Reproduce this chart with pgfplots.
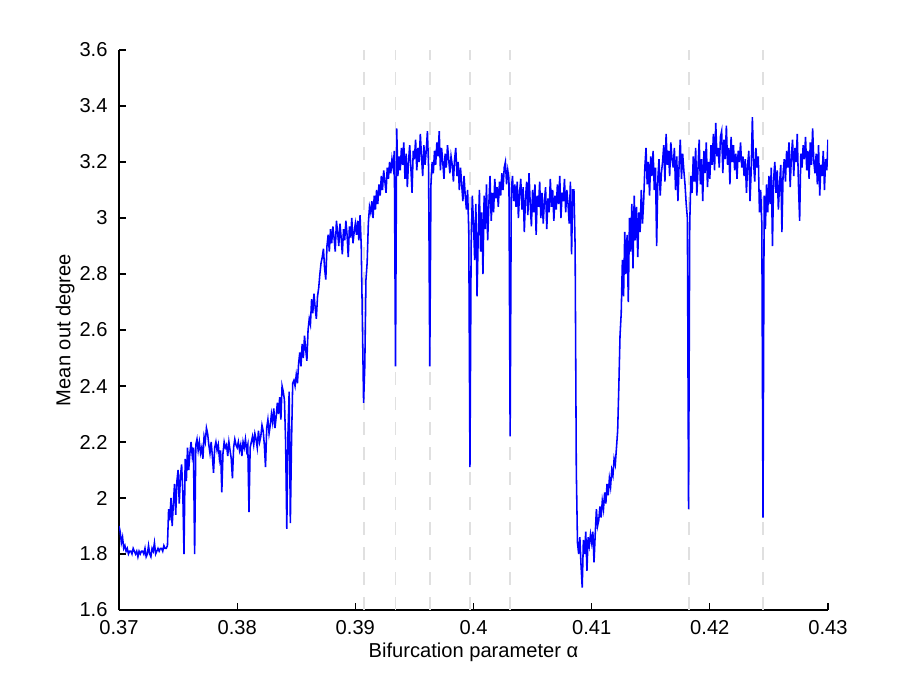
\documentclass[border=0pt]{standalone}
\usepackage{fontspec}
\setmainfont{Liberation Sans}
\usepackage{pgfplots}
\pgfplotsset{compat=1.18}

\begin{document}
\begin{tikzpicture}
\useasboundingbox (-57.12bp,-35.52bp) rectangle (381.12bp,292.8bp);
\begin{axis}[
  at={(0,0)}, anchor=south west,
  scale only axis,
  width=340.32bp, height=268.8bp,
  xmin=0.37, xmax=0.43, ymin=1.6, ymax=3.6,
  axis x line*=bottom, axis y line*=left,
  axis line style={line width=0.5bp},
  tick align=inside,
  major tick length=3.4bp,
  tick style={line width=0.5bp, black},
  xtick={0.37,0.38,...,0.43},
  ytick={1.6,1.8,...,3.6},
  font=\fontsize{9.7}{11}\selectfont,
  /pgf/number format/assume math mode=true,
  xticklabel style={/pgf/number format/fixed, /pgf/number format/precision=2, yshift=-1.5bp},
  yticklabel style={/pgf/number format/fixed, /pgf/number format/precision=1, xshift=-2bp},
  scaled x ticks=false,
  xlabel={Bifurcation parameter α},
  ylabel={Mean out degree},
  every axis x label/.style={at={(axis description cs:0.5,-0.075)}, anchor=center},
  every axis y label/.style={at={(axis description cs:-0.0761,0.5)}, rotate=90, anchor=center},
]
% marked parameter values
\addplot[ycomb, draw=black!12, line width=0.9bp, dash pattern=on 6.3bp off 5.7bp, mark=none]
  coordinates {(0.3907,3.6) (0.3934,3.6) (0.3963,3.6) (0.3997,3.6) (0.4031,3.6) (0.4182,3.6) (0.4245,3.6)};
\addplot[blue, line width=0.75bp, mark=none] table {
x y
0.3700 1.90
0.3701 1.88
0.3702 1.84
0.3703 1.86
0.3704 1.82
0.3705 1.83
0.3706 1.81
0.3707 1.82
0.3708 1.80
0.3709 1.81
0.3710 1.81
0.3711 1.80
0.3712 1.82
0.3713 1.81
0.3714 1.80
0.3715 1.81
0.3716 1.79
0.3717 1.81
0.3718 1.80
0.3719 1.81
0.3720 1.81
0.3721 1.80
0.3722 1.82
0.3723 1.79
0.3724 1.80
0.3725 1.83
0.3726 1.80
0.3727 1.79
0.3728 1.82
0.3729 1.81
0.3730 1.84
0.3731 1.80
0.3732 1.81
0.3733 1.82
0.3734 1.81
0.3735 1.82
0.3736 1.82
0.3737 1.81
0.3738 1.83
0.3739 1.82
0.3740 1.82
0.3741 1.83
0.3742 1.96
0.3743 1.92
0.3744 2.00
0.3745 1.90
0.3746 1.98
0.3747 2.05
0.3748 1.94
0.3749 2.06
0.3750 2.10
0.3751 1.98
0.3752 2.08
0.3753 2.12
0.3754 2.02
0.3755 1.80
0.3756 2.14
0.3757 2.06
0.3758 2.18
0.3759 2.10
0.3760 2.16
0.3761 2.20
0.3762 2.15
0.3763 2.18
0.3764 1.80
0.3765 2.19
0.3766 2.21
0.3767 2.17
0.3768 2.20
0.3769 2.16
0.3770 2.18
0.3771 2.14
0.3772 2.22
0.3773 2.20
0.3774 2.25
0.3775 2.23
0.3776 2.19
0.3777 2.16
0.3778 2.20
0.3779 2.15
0.3780 2.09
0.3781 2.18
0.3782 2.20
0.3783 2.17
0.3784 2.19
0.3785 2.14
0.3786 2.17
0.3787 2.02
0.3788 2.16
0.3789 2.20
0.3790 2.18
0.3791 2.19
0.3792 2.15
0.3793 2.20
0.3794 2.17
0.3795 2.14
0.3796 2.07
0.3797 2.18
0.3798 2.21
0.3799 2.19
0.3800 2.18
0.3801 2.20
0.3802 2.17
0.3803 2.19
0.3804 2.15
0.3805 2.20
0.3806 2.18
0.3807 2.21
0.3808 2.17
0.3809 2.19
0.3810 1.95
0.3811 2.18
0.3812 2.20
0.3813 2.22
0.3814 2.19
0.3815 2.23
0.3816 2.21
0.3817 2.18
0.3818 2.24
0.3819 2.20
0.3820 2.22
0.3821 2.26
0.3822 2.24
0.3823 2.19
0.3824 2.11
0.3825 2.25
0.3826 2.28
0.3827 2.23
0.3828 2.26
0.3829 2.30
0.3830 2.27
0.3831 2.32
0.3832 2.25
0.3833 2.29
0.3834 2.34
0.3835 2.30
0.3836 2.36
0.3837 2.28
0.3838 2.40
0.3839 2.38
0.3840 2.35
0.3841 2.20
0.3842 1.89
0.3843 2.23
0.3844 2.38
0.3845 1.91
0.3846 2.20
0.3847 2.41
0.3848 2.42
0.3849 2.40
0.3850 2.44
0.3851 2.41
0.3852 2.48
0.3853 2.52
0.3854 2.47
0.3855 2.55
0.3856 2.50
0.3857 2.58
0.3858 2.53
0.3859 2.49
0.3860 2.60
0.3861 2.64
0.3862 2.62
0.3863 2.71
0.3864 2.66
0.3865 2.73
0.3866 2.68
0.3867 2.64
0.3868 2.72
0.3869 2.75
0.3870 2.80
0.3871 2.84
0.3872 2.86
0.3873 2.89
0.3874 2.82
0.3875 2.78
0.3876 2.90
0.3877 2.94
0.3878 2.88
0.3879 2.96
0.3880 2.91
0.3881 2.97
0.3882 2.93
0.3883 2.88
0.3884 2.99
0.3885 2.95
0.3886 2.90
0.3887 2.98
0.3888 2.93
0.3889 2.87
0.3890 2.96
0.3891 2.92
0.3892 2.99
0.3893 2.94
0.3894 2.86
0.3895 2.97
0.3896 2.93
0.3897 3.00
0.3898 2.91
0.3899 2.95
0.3900 2.98
0.3901 2.94
0.3902 2.99
0.3903 2.92
0.3904 3.01
0.3905 2.90
0.3906 2.62
0.3907 2.34
0.3908 2.47
0.3909 2.78
0.3910 2.84
0.3911 2.98
0.3912 3.04
0.3913 3.02
0.3914 3.06
0.3915 3.00
0.3916 3.08
0.3917 3.03
0.3918 3.10
0.3919 3.05
0.3920 3.12
0.3921 3.08
0.3922 3.15
0.3923 3.10
0.3924 3.17
0.3925 3.13
0.3926 3.09
0.3927 3.18
0.3928 3.14
0.3929 3.20
0.3930 3.16
0.3931 3.21
0.3932 3.18
0.3933 3.24
0.3934 2.47
0.3935 3.32
0.3936 3.15
0.3937 3.22
0.3938 3.17
0.3939 3.25
0.3940 3.19
0.3941 3.27
0.3942 3.14
0.3943 3.23
0.3944 3.11
0.3945 3.20
0.3946 3.26
0.3947 3.18
0.3948 3.09
0.3949 3.24
0.3950 3.21
0.3951 3.28
0.3952 3.17
0.3953 3.25
0.3954 3.20
0.3955 3.30
0.3956 3.22
0.3957 3.15
0.3958 3.26
0.3959 3.19
0.3960 3.24
0.3961 3.31
0.3962 3.18
0.3963 2.47
0.3964 3.12
0.3965 3.20
0.3966 3.16
0.3967 3.24
0.3968 3.19
0.3969 3.27
0.3970 3.22
0.3971 3.31
0.3972 3.17
0.3973 3.25
0.3974 3.20
0.3975 3.14
0.3976 3.23
0.3977 3.18
0.3978 3.26
0.3979 3.21
0.3980 3.16
0.3981 3.22
0.3982 3.19
0.3983 3.13
0.3984 3.21
0.3985 3.25
0.3986 3.15
0.3987 3.20
0.3988 3.10
0.3989 3.18
0.3990 3.12
0.3991 3.06
0.3992 3.15
0.3993 3.08
0.3994 3.03
0.3995 3.10
0.3996 2.95
0.3997 2.11
0.3998 2.90
0.3999 3.08
0.4000 2.98
0.4001 2.85
0.4002 3.05
0.4003 2.72
0.4004 2.94
0.4005 3.10
0.4006 2.88
0.4007 3.02
0.4008 2.80
0.4009 3.08
0.4010 2.96
0.4011 3.12
0.4012 2.92
0.4013 3.05
0.4014 3.15
0.4015 2.99
0.4016 3.09
0.4017 3.02
0.4018 3.14
0.4019 3.07
0.4020 3.11
0.4021 3.04
0.4022 3.13
0.4023 3.08
0.4024 3.16
0.4025 3.10
0.4026 3.18
0.4027 3.20
0.4028 3.12
0.4029 3.17
0.4030 3.14
0.4031 2.22
0.4032 3.10
0.4033 3.15
0.4034 3.06
0.4035 3.12
0.4036 3.04
0.4037 3.13
0.4038 3.00
0.4039 3.09
0.4040 3.14
0.4041 3.03
0.4042 3.11
0.4043 2.95
0.4044 3.07
0.4045 3.13
0.4046 3.01
0.4047 3.16
0.4048 3.05
0.4049 2.97
0.4050 3.10
0.4051 3.02
0.4052 3.12
0.4053 2.94
0.4054 3.08
0.4055 3.04
0.4056 3.13
0.4057 3.00
0.4058 3.09
0.4059 2.98
0.4060 3.06
0.4061 3.11
0.4062 2.96
0.4063 3.07
0.4064 3.02
0.4065 3.14
0.4066 3.04
0.4067 3.10
0.4068 2.99
0.4069 3.08
0.4070 3.03
0.4071 3.12
0.4072 3.05
0.4073 3.15
0.4074 3.00
0.4075 3.09
0.4076 3.06
0.4077 3.14
0.4078 3.02
0.4079 3.10
0.4080 3.05
0.4081 2.98
0.4082 3.13
0.4083 2.87
0.4084 3.10
0.4085 3.10
0.4086 2.90
0.4087 2.10
0.4088 1.84
0.4089 1.80
0.4090 1.86
0.4091 1.76
0.4092 1.68
0.4093 1.85
0.4094 1.80
0.4095 1.88
0.4096 1.74
0.4097 1.86
0.4098 1.83
0.4099 1.87
0.4100 1.84
0.4101 1.88
0.4102 1.77
0.4103 1.87
0.4104 1.96
0.4105 1.90
0.4106 1.92
0.4107 1.97
0.4108 1.93
0.4109 1.99
0.4110 1.96
0.4111 2.02
0.4112 1.98
0.4113 2.05
0.4114 2.01
0.4115 2.07
0.4116 2.04
0.4117 2.10
0.4118 2.08
0.4119 2.14
0.4120 2.12
0.4121 2.18
0.4122 2.24
0.4123 2.40
0.4124 2.58
0.4125 2.66
0.4126 2.85
0.4127 2.72
0.4128 2.95
0.4129 2.80
0.4130 2.94
0.4131 2.70
0.4132 3.00
0.4133 2.88
0.4134 3.05
0.4135 2.82
0.4136 3.08
0.4137 2.92
0.4138 3.04
0.4139 2.86
0.4140 3.02
0.4141 2.95
0.4142 3.10
0.4143 2.98
0.4144 3.06
0.4145 3.18
0.4146 3.25
0.4147 3.12
0.4148 3.20
0.4149 3.08
0.4150 3.22
0.4151 3.15
0.4152 3.24
0.4153 3.10
0.4154 3.18
0.4155 2.90
0.4156 3.14
0.4157 3.21
0.4158 3.08
0.4159 3.16
0.4160 3.20
0.4161 3.26
0.4162 3.13
0.4163 3.30
0.4164 3.19
0.4165 3.24
0.4166 3.15
0.4167 3.27
0.4168 3.21
0.4169 3.18
0.4170 3.25
0.4171 3.10
0.4172 3.22
0.4173 3.06
0.4174 3.19
0.4175 3.28
0.4176 3.14
0.4177 3.23
0.4178 3.17
0.4179 3.12
0.4180 3.05
0.4181 3.00
0.4182 1.96
0.4183 2.98
0.4184 3.15
0.4185 3.09
0.4186 3.22
0.4187 3.13
0.4188 3.25
0.4189 3.08
0.4190 3.18
0.4191 3.28
0.4192 3.12
0.4193 3.21
0.4194 3.06
0.4195 3.24
0.4196 3.16
0.4197 3.27
0.4198 3.11
0.4199 3.20
0.4200 3.14
0.4201 3.26
0.4202 3.19
0.4203 3.30
0.4204 3.17
0.4205 3.34
0.4206 3.22
0.4207 3.25
0.4208 3.18
0.4209 3.29
0.4210 3.31
0.4211 3.16
0.4212 3.28
0.4213 3.21
0.4214 3.33
0.4215 3.19
0.4216 3.25
0.4217 3.12
0.4218 3.29
0.4219 3.20
0.4220 3.26
0.4221 3.17
0.4222 3.23
0.4223 3.14
0.4224 3.24
0.4225 3.20
0.4226 3.27
0.4227 3.18
0.4228 3.22
0.4229 3.15
0.4230 3.21
0.4231 3.09
0.4232 3.19
0.4233 3.24
0.4234 3.06
0.4235 3.17
0.4236 3.36
0.4237 3.20
0.4238 3.13
0.4239 3.25
0.4240 3.18
0.4241 3.22
0.4242 3.02
0.4243 3.10
0.4244 2.98
0.4245 1.93
0.4246 3.08
0.4247 2.96
0.4248 3.12
0.4249 3.02
0.4250 3.15
0.4251 3.05
0.4252 3.18
0.4253 2.90
0.4254 3.14
0.4255 3.20
0.4256 3.09
0.4257 3.17
0.4258 3.03
0.4259 3.12
0.4260 3.19
0.4261 2.95
0.4262 3.16
0.4263 3.21
0.4264 3.13
0.4265 3.24
0.4266 3.18
0.4267 3.27
0.4268 3.11
0.4269 3.22
0.4270 3.28
0.4271 3.15
0.4272 3.25
0.4273 3.20
0.4274 3.30
0.4275 3.12
0.4276 2.99
0.4277 3.23
0.4278 3.18
0.4279 3.26
0.4280 3.21
0.4281 3.29
0.4282 3.17
0.4283 3.24
0.4284 3.14
0.4285 3.27
0.4286 3.19
0.4287 3.32
0.4288 3.20
0.4289 3.16
0.4290 3.23
0.4291 3.12
0.4292 3.26
0.4293 3.08
0.4294 3.19
0.4295 3.15
0.4296 3.24
0.4297 3.10
0.4298 3.21
0.4299 3.17
0.4300 3.28
};
\end{axis}
\end{tikzpicture}
\end{document}
